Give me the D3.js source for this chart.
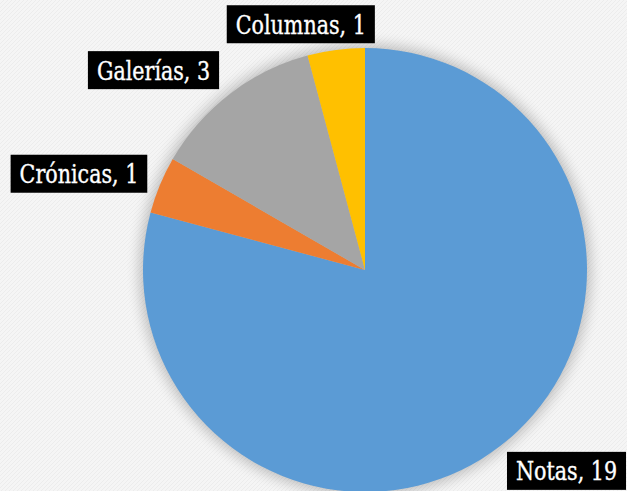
<!DOCTYPE html>
<html>
<head>
<meta charset="utf-8">
<script src="https://cdn.jsdelivr.net/npm/d3@7"></script>
<style>
  html, body { margin: 0; padding: 0; background: #f4f4f4; }
  svg { display: block; }
  .lbl { font-family: "DejaVu Serif Condensed", "DejaVu Serif", serif; font-stretch: condensed; fill: #fff; stroke: #fff; stroke-width: 0.35px; }
</style>
</head>
<body>
<svg id="chart" width="627" height="491"></svg>
<script>
// Article types and their counts
const categories = ["Notas", "Crónicas", "Galerías", "Columnas"];
const counts = [19, 1, 3, 1];
const colors = ["#5B9BD5", "#ED7D31", "#A5A5A5", "#FFC000"];

// Label placement: radial distance beyond the rim plus a small nudge per slice
const labelNudge = [[42, -7], [-44, 4], [-52, 8], [-30, 14]];

const W = 627, H = 491;
const cx = 365, cy = 270, radius = 222;

const svg = d3.select("#chart");
const defs = svg.append("defs");

// Fine woven texture for the background
const pat = defs.append("pattern")
  .attr("id", "weave").attr("width", 4).attr("height", 4)
  .attr("patternUnits", "userSpaceOnUse");
pat.append("rect").attr("width", 4).attr("height", 4).attr("fill", "#f5f5f5");
pat.append("path").attr("d", "M0,4 L4,0").attr("stroke", "#ececec").attr("stroke-width", 1);

const blur = defs.append("filter").attr("id", "soft")
  .attr("x", "-20%").attr("y", "-20%").attr("width", "140%").attr("height", "140%");
blur.append("feGaussianBlur").attr("stdDeviation", 7);

svg.append("rect").attr("width", W).attr("height", H).attr("fill", "url(#weave)");

const data = categories.map((c, i) => ({ name: c, value: counts[i], color: colors[i] }));

const pie = d3.pie().value(d => d.value).sort(null);
const arcs = pie(data);
const arc = d3.arc().innerRadius(0).outerRadius(radius);

const g = svg.append("g").attr("transform", `translate(${cx},${cy})`);

// soft shadow under the pie
g.append("circle").attr("r", radius + 3)
  .attr("fill", "#000").attr("opacity", 0.24).attr("filter", "url(#soft)");

g.selectAll("path.slice").data(arcs).join("path")
  .attr("class", "slice")
  .attr("d", arc)
  .attr("fill", d => d.data.color);

// data labels: "Name, value" on black boxes
const labelR = radius + 40;
const fontSize = 25.5;
const squeeze = 0.9;
arcs.forEach((d, i) => {
  const mid = (d.startAngle + d.endAngle) / 2;
  const x = Math.sin(mid) * labelR + labelNudge[i][0];
  const y = -Math.cos(mid) * labelR + labelNudge[i][1];
  const lg = g.append("g").attr("transform", `translate(${x},${y})`);
  const bg = lg.append("rect").attr("fill", "#000");
  const t = lg.append("text").attr("class", "lbl")
    .attr("text-anchor", "middle")
    .attr("dy", "0.37em")
    .attr("transform", `scale(${squeeze},1)`)
    .style("font-size", fontSize + "px")
    .text(`${d.data.name}, ${d.data.value}`);
  const bb = t.node().getBBox();
  const w = bb.width * squeeze;
  const padX = 9, h = 38;
  bg.attr("x", -w / 2 - padX).attr("y", -h / 2)
    .attr("width", w + padX * 2).attr("height", h);
});
</script>
</body>
</html>
